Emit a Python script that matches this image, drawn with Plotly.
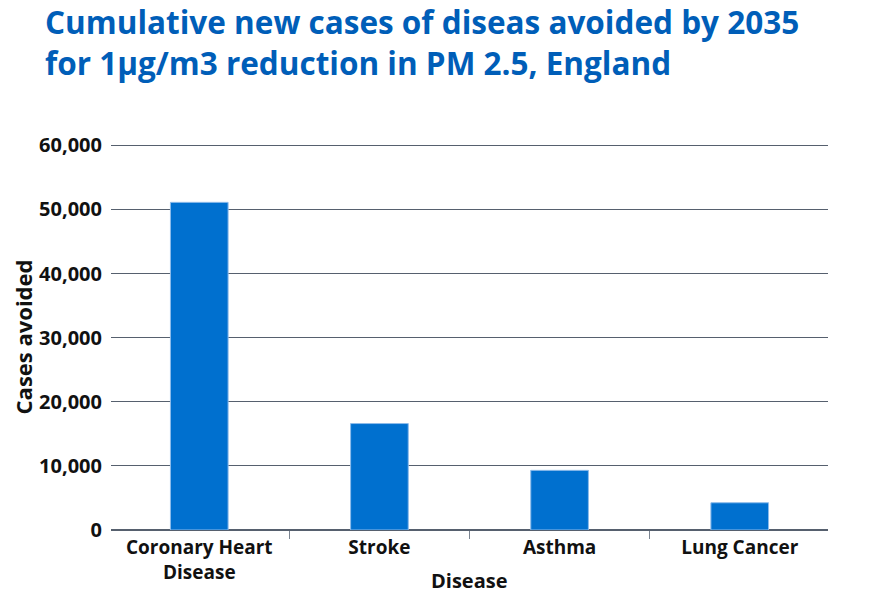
import plotly.graph_objects as go

categories = ["Coronary Heart<br>Disease", "Stroke", "Asthma", "Lung Cancer"]
cases_avoided = [51100, 16600, 9300, 4250]
y_ticks = [0, 10000, 20000, 30000, 40000, 50000, 60000]
y_tick_labels = ["0", "10,000", "20,000", "30,000", "40,000", "50,000", "60,000"]

FONT = "Open Sans"

fig = go.Figure(
    go.Bar(
        x=categories,
        y=cases_avoided,
        width=0.32,
        marker=dict(color="#0070CF", line=dict(color="#8DBBEA", width=1)),
    )
)

fig.update_layout(
    width=890,
    height=596,
    paper_bgcolor="white",
    plot_bgcolor="white",
    margin=dict(l=103, r=70, t=136, b=74, autoexpand=False),
    showlegend=False,
    title=dict(
        text="Cumulative new cases of diseas avoided by 2035<br>for 1µg/m3 reduction in PM 2.5, England",
        x=0.0416,
        xanchor="left",
        y=0.956,
        yanchor="top",
        automargin=False,
        font=dict(family=FONT, size=31.5, color="#005EB8", weight="bold"),
    ),
    font=dict(family=FONT, color="#111111"),
    annotations=[
        dict(
            text="Disease",
            xref="paper", yref="paper",
            x=0.5, y=0,
            xanchor="center", yanchor="middle",
            yshift=-50,
            showarrow=False,
            font=dict(family=FONT, size=20, color="#111111", weight="bold"),
        )
    ],
)

fig.update_yaxes(
    range=[0, 60200],
    automargin=False,
    tickvals=y_ticks,
    ticktext=y_tick_labels,
    tickfont=dict(family=FONT, size=20, color="#111111", weight="bold"),
    showgrid=True,
    gridcolor="#56606E",
    gridwidth=1,
    zeroline=True,
    zerolinecolor="#56606E",
    zerolinewidth=2,
    showline=False,
    ticks="",
    ticklabelstandoff=8,
    title=dict(text="Cases avoided", font=dict(family=FONT, size=22, color="#111111", weight="bold"), standoff=8),
)

fig.update_xaxes(
    range=[-0.49, 3.49],
    automargin=False,
    tickson="boundaries",
    ticks="outside",
    ticklen=8,
    tickcolor="#7A8491",
    showline=False,
    ticklabelstandoff=4,
    tickfont=dict(family=FONT, size=19, color="#111111", weight="bold"),
)

fig.write_html("out.html")
